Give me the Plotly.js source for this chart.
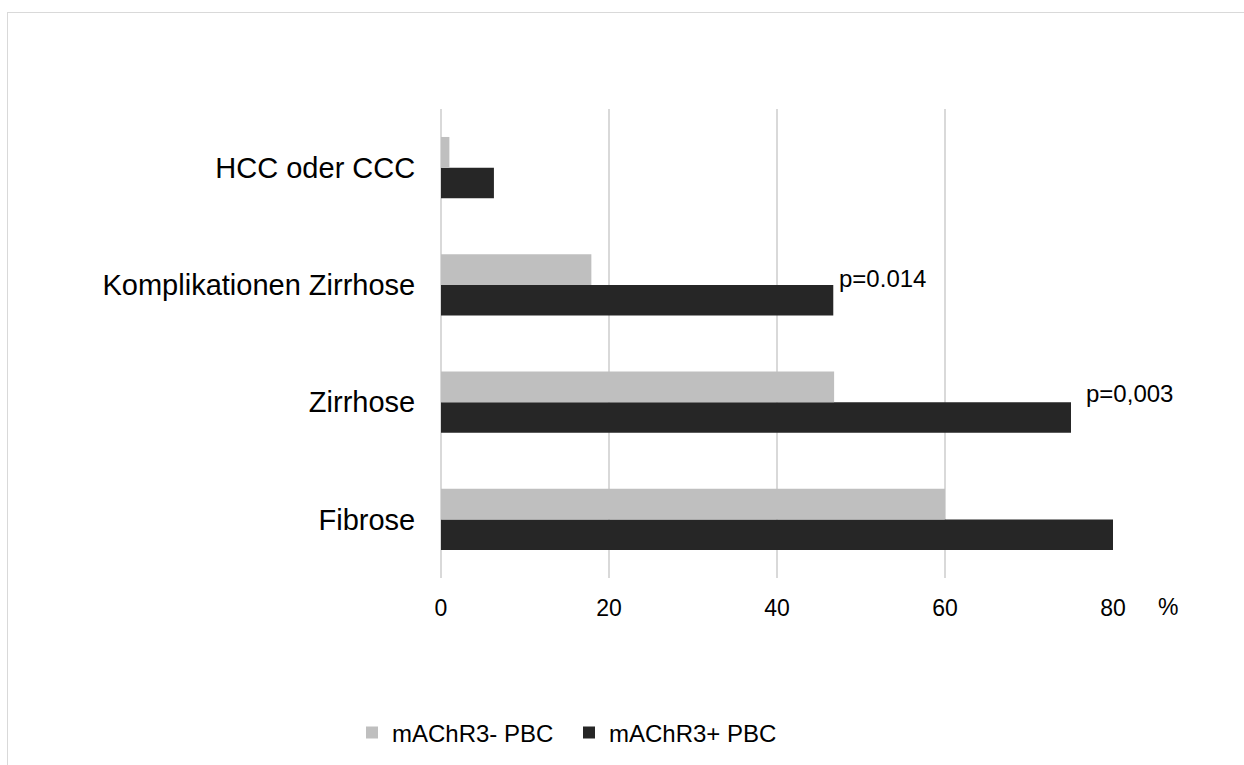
<!DOCTYPE html>
<html>
<head>
<meta charset="utf-8">
<script src="https://cdn.plot.ly/plotly-3.0.1.min.js"></script>
<style>
  html, body { margin: 0; padding: 0; background: #ffffff; }
  #wrap { position: relative; width: 1244px; height: 765px; overflow: hidden; }
  #chart { width: 1244px; height: 765px; }
  #frame {
    position: absolute; left: 7px; top: 12px; width: 1300px; height: 800px;
    border-left: 1.5px solid #d9d9d9; border-top: 1.5px solid #d9d9d9;
    pointer-events: none;
  }
</style>
</head>
<body>
<div id="wrap">
  <div id="chart"></div>
  <div id="frame"></div>
</div>
<script>
// Outcome categories, listed bottom to top
const categories = ['Fibrose', 'Zirrhose', 'Komplikationen Zirrhose', 'HCC oder CCC'];

// Share of patients (%) per group
const negativeValues = [60, 46.8, 17.9, 1.0];   // mAChR3- PBC
const positiveValues = [80, 75, 46.7, 6.3];     // mAChR3+ PBC

const seriesNames = ['mAChR3- PBC', 'mAChR3+ PBC'];

// p-values shown next to the mAChR3+ bars
const pLabels = [
  { category: 'Komplikationen Zirrhose', text: 'p=0.014', value: 46.7 },
  { category: 'Zirrhose', text: 'p=0,003', value: 75 }
];

const xTicks = [0, 20, 40, 60, 80];

const FONT = 'Liberation Sans, Arial, Helvetica, sans-serif';

const traces = [
  {
    type: 'bar', orientation: 'h',
    name: seriesNames[1],
    y: categories, x: positiveValues,
    marker: { color: '#262626' },
    hoverinfo: 'x+name'
  },
  {
    type: 'bar', orientation: 'h',
    name: seriesNames[0],
    y: categories, x: negativeValues,
    marker: { color: '#bfbfbf' },
    hoverinfo: 'x+name'
  }
];

const annotations = pLabels.map((p, i) => ({
  x: p.value, y: p.category, xref: 'x', yref: 'y',
  text: p.text, showarrow: false,
  xanchor: 'left', yanchor: 'middle',
  xshift: i === 0 ? 4 : 13, yshift: i === 0 ? 6 : 9,
  font: { family: FONT, size: 24, color: '#000000' }
}));

annotations.push({
  x: 1, y: 0, xref: 'paper', yref: 'paper',
  text: '%', showarrow: false,
  xanchor: 'center', yanchor: 'middle',
  xshift: 55, yshift: -29,
  font: { family: FONT, size: 23, color: '#000000' }
});

const layout = {
  width: 1244, height: 765,
  paper_bgcolor: '#ffffff', plot_bgcolor: '#ffffff',
  margin: { l: 441, r: 131, t: 109, b: 187, pad: 0 },
  barmode: 'group',
  bargap: 0.477, bargroupgap: 0,
  font: { family: FONT, color: '#000000' },
  xaxis: {
    range: [0, 80],
    tickvals: xTicks,
    ticktext: xTicks.map(String),
    showgrid: true, gridcolor: '#d9d9d9', gridwidth: 1.5,
    zeroline: true, zerolinecolor: '#d9d9d9', zerolinewidth: 1.5,
    showline: false,
    ticks: 'outside', ticklen: 9, tickcolor: 'rgba(0,0,0,0)',
    tickfont: { family: FONT, size: 23, color: '#000000' },
    fixedrange: true
  },
  yaxis: {
    type: 'category',
    categoryorder: 'array', categoryarray: categories,
    showgrid: false, zeroline: false, showline: false,
    ticks: 'outside', ticklen: 19, tickcolor: 'rgba(0,0,0,0)',
    tickfont: { family: FONT, size: 29, color: '#000000' },
    fixedrange: true
  },
  showlegend: true,
  legend: {
    orientation: 'h', traceorder: 'reversed',
    x: 352 / 1244, xanchor: 'left', y: 0.042, yanchor: 'middle',
    xref: 'container', yref: 'container',
    entrywidth: 172, entrywidthmode: 'pixels',
    font: { family: FONT, size: 24, color: '#000000' },
    bgcolor: 'rgba(0,0,0,0)'
  },
  annotations: annotations
};

Plotly.newPlot('chart', traces, layout, { displayModeBar: false, staticPlot: true });
</script>
</body>
</html>
